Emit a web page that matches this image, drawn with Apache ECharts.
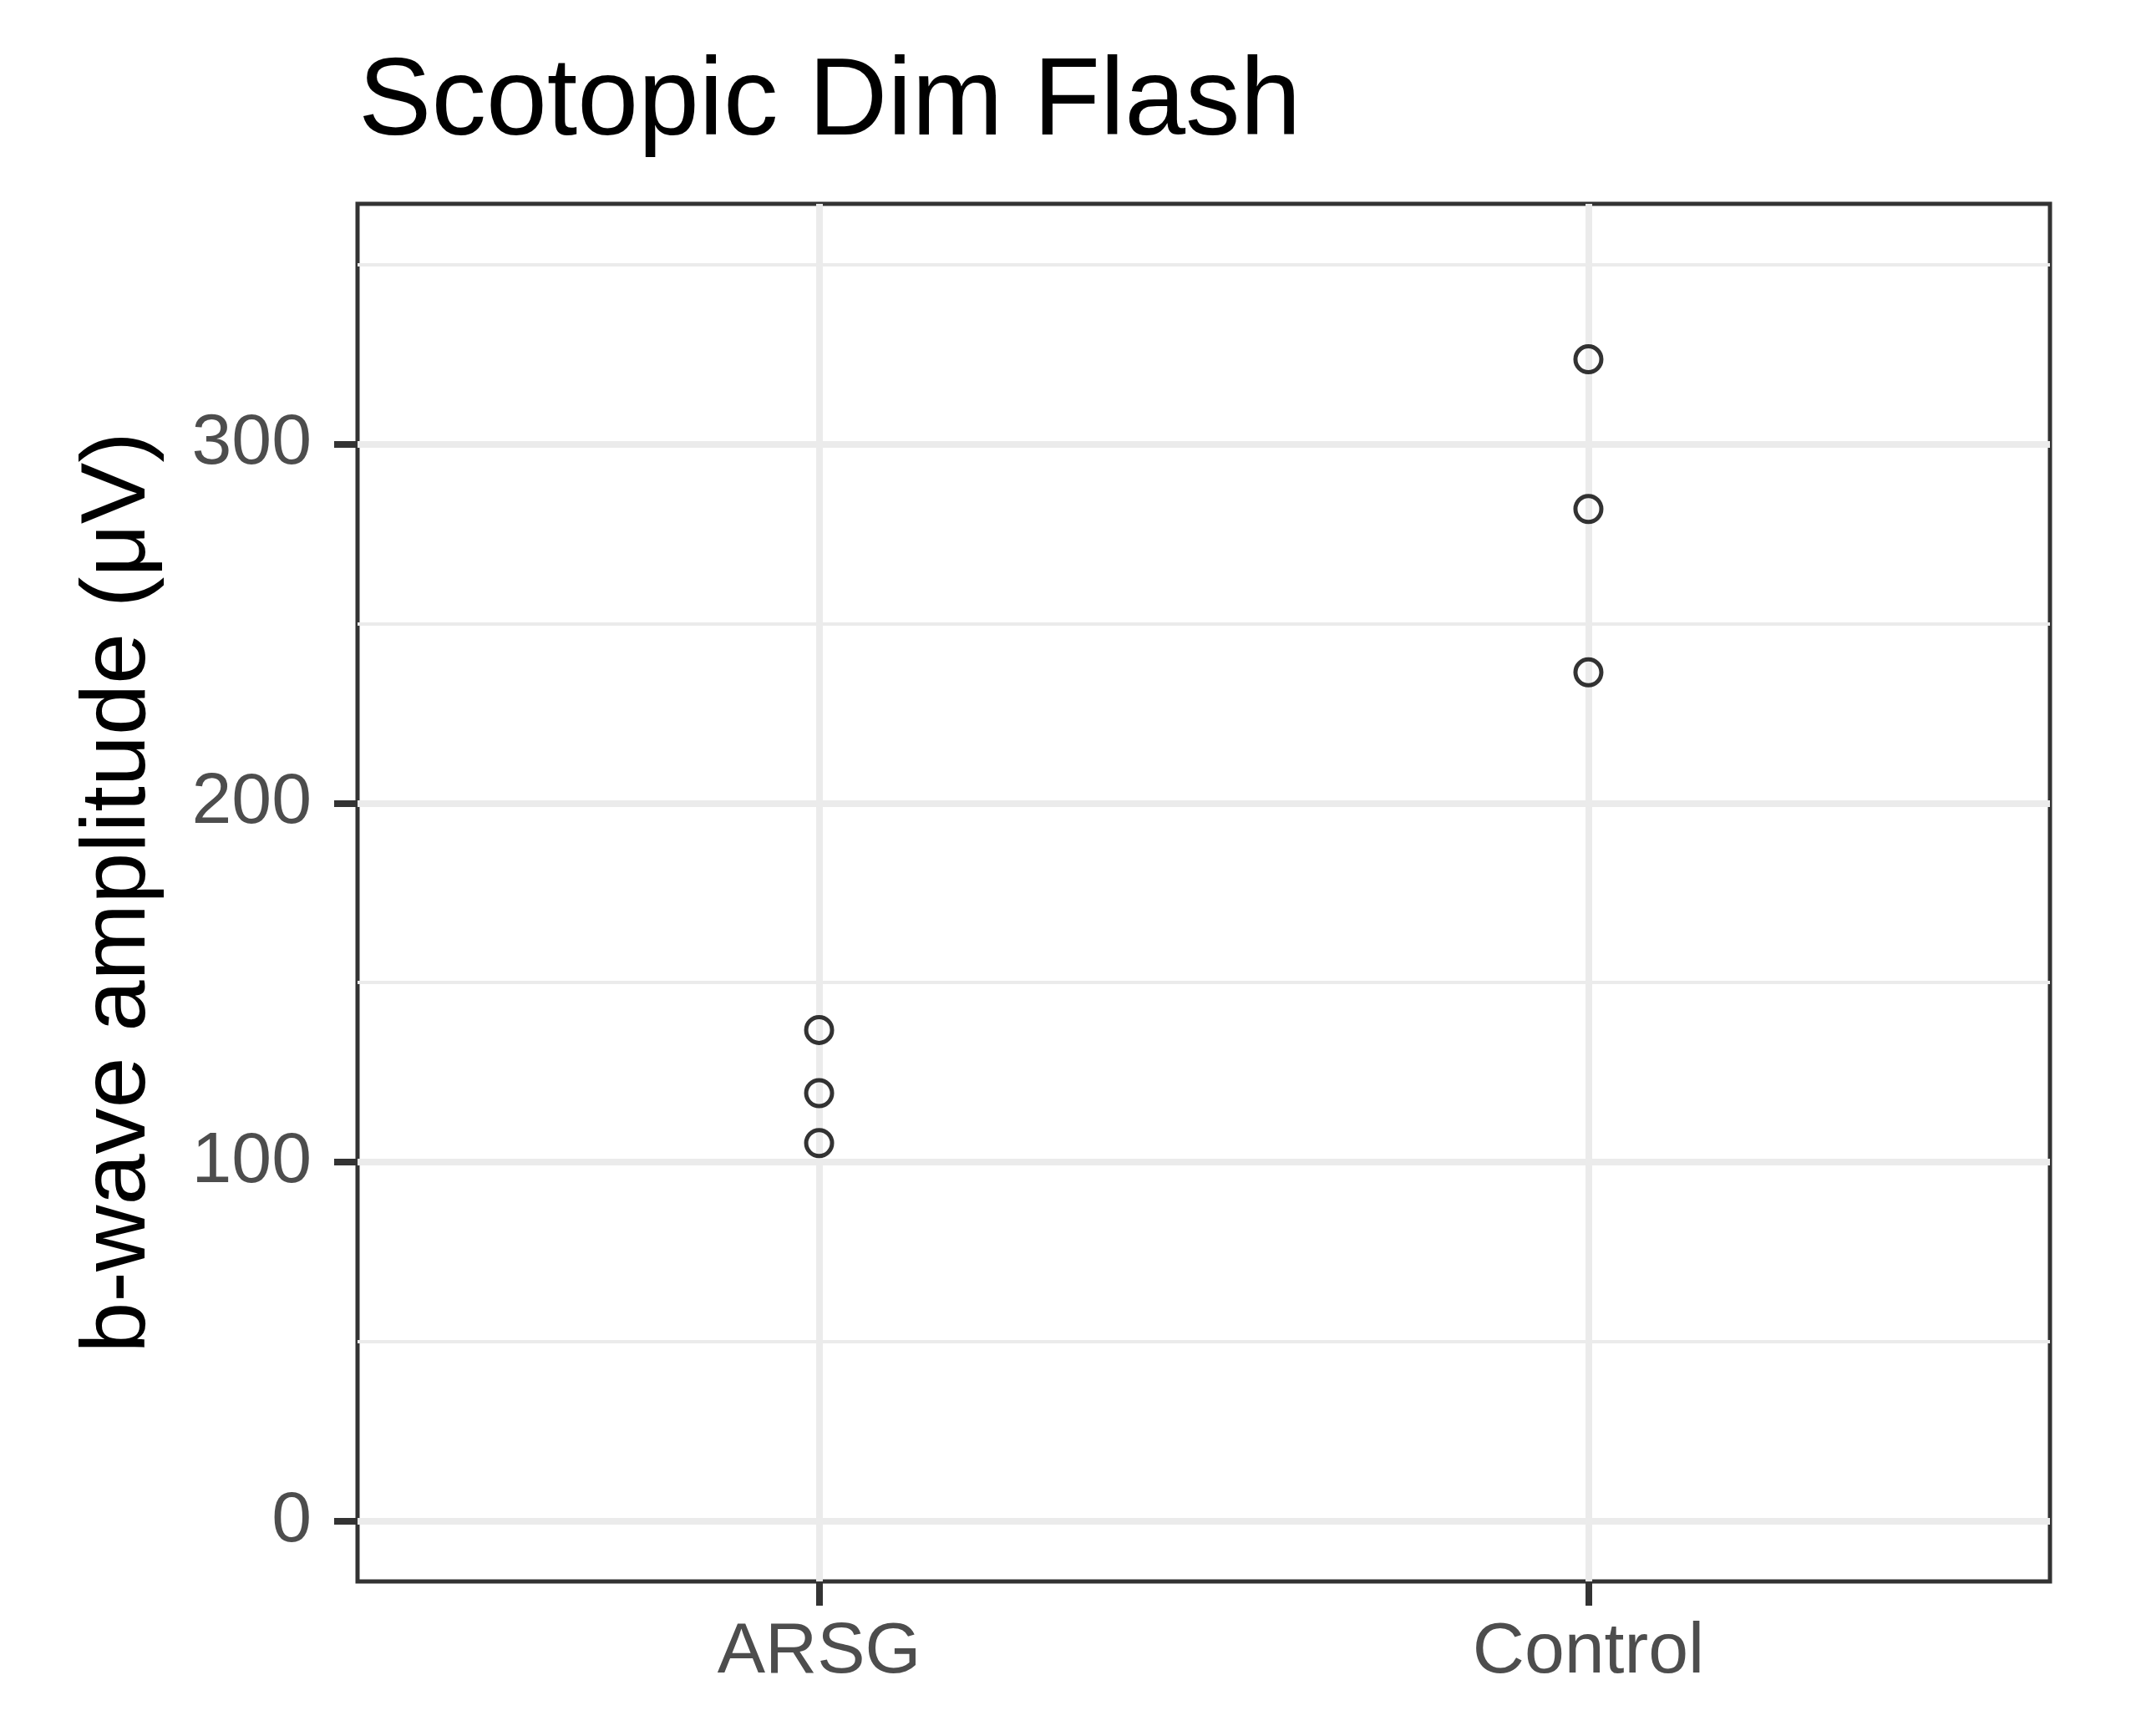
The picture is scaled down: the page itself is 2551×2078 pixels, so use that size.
<!DOCTYPE html>
<html>
<head>
<meta charset="utf-8">
<script src="https://cdn.jsdelivr.net/npm/echarts@6/dist/echarts.min.js"></script>
<style>
  html, body { margin: 0; padding: 0; background: #ffffff; }
  #chart { width: 2551px; height: 2078px; }
</style>
</head>
<body>
<div id="chart"></div>
<script>
// ---- data ----
const titleText = 'Scotopic Dim Flash';
const yAxisTitle = 'b-wave amplitude (μV)';
const categories = ['ARSG', 'Control'];
const arsgValues = [136.8, 119.2, 105.3];
const controlValues = [323.6, 281.9, 236.4];
const yMajorTicks = [0, 100, 200, 300];
const yMinorTicks = [50, 150, 250, 350];
const yMin = -16.8;
const yMax = 366.9;

const groups = [arsgValues, controlValues];
const points = [];
groups.forEach(function (vals, gi) {
  vals.forEach(function (v) { points.push([gi + 1, v]); });
});
const xPositions = categories.map(function (c, i) { return i + 1; });

const chart = echarts.init(document.getElementById('chart'), null, { renderer: 'canvas' });
const font = '"Liberation Sans", Arial, Helvetica, sans-serif';

chart.setOption({
  animation: false,
  backgroundColor: '#ffffff',
  title: {
    text: titleText,
    left: 424,
    top: 54,
    textStyle: { fontFamily: font, fontSize: 131, fontWeight: 'normal', color: '#000000' }
  },
  grid: {
    left: 428, right: 97, top: 244, bottom: 185,
    containLabel: false,
    show: true,
    borderColor: '#333333',
    borderWidth: 5,
    backgroundColor: 'transparent'
  },
  xAxis: {
    type: 'value',
    min: 0.4,
    max: 2.6,
    axisLine: { show: false, onZero: false },
    axisTick: {
      show: true, length: 29, customValues: xPositions,
      lineStyle: { color: '#333333', width: 8 }
    },
    axisLabel: {
      show: true, margin: 42, customValues: xPositions,
      fontFamily: font, fontSize: 86, color: '#4D4D4D',
      formatter: function (v) { return categories[Math.round(v) - 1] || ''; }
    },
    splitLine: { show: true, lineStyle: { color: '#EBEBEB', width: 8 } }
  },
  yAxis: [{
    type: 'value',
    min: yMin,
    max: yMax,
    name: yAxisTitle,
    nameLocation: 'middle',
    nameGap: 230,
    nameRotate: 90,
    nameTextStyle: { fontFamily: font, fontSize: 110, color: '#000000' },
    axisLine: { show: false, onZero: false },
    axisTick: {
      show: true, length: 28, customValues: yMajorTicks,
      lineStyle: { color: '#333333', width: 8 }
    },
    axisLabel: {
      show: true, margin: 55, customValues: yMajorTicks,
      fontFamily: font, fontSize: 86, color: '#4D4D4D'
    },
    splitLine: { show: true, lineStyle: { color: '#EBEBEB', width: 8 } }
  }, {
    type: 'value',
    min: yMin,
    max: yMax,
    position: 'left',
    axisLine: { show: false, onZero: false },
    axisTick: { show: false, customValues: yMinorTicks },
    axisLabel: { show: false, customValues: yMinorTicks },
    splitLine: { show: true, lineStyle: { color: '#EBEBEB', width: 4 } }
  }],
  series: [{
    type: 'scatter',
    yAxisIndex: 0,
    symbol: 'circle',
    symbolSize: 31,
    itemStyle: { color: 'rgba(0,0,0,0)', borderColor: '#000000', borderWidth: 5 },
    data: points,
    z: 10
  }]
});
</script>
</body>
</html>
